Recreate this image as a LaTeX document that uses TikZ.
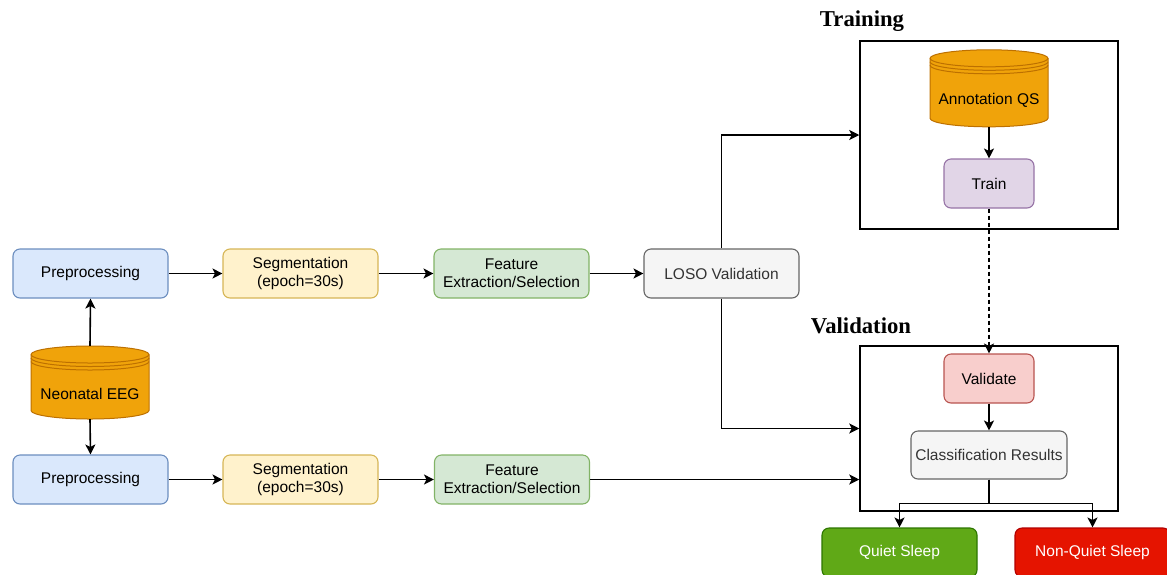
\documentclass[tikz,border=0pt]{standalone}
\usepackage{fontspec}
\setmainfont{Liberation Sans}
\newfontfamily\titlefont{Liberation Serif}
\usetikzlibrary{arrows.meta,calc}
\definecolor{blueF}{HTML}{DAE8FC}\definecolor{blueS}{HTML}{6C8EBF}
\definecolor{yelF}{HTML}{FFF2CC}\definecolor{yelS}{HTML}{D6B656}
\definecolor{grnF}{HTML}{D5E8D4}\definecolor{grnS}{HTML}{82B366}
\definecolor{gryF}{HTML}{F5F5F5}\definecolor{gryS}{HTML}{666666}\definecolor{gryT}{HTML}{333333}
\definecolor{purF}{HTML}{E1D5E7}\definecolor{purS}{HTML}{9673A6}
\definecolor{redF}{HTML}{F8CECC}\definecolor{redS}{HTML}{B85450}
\definecolor{orgF}{HTML}{F0A30A}\definecolor{orgS}{HTML}{BD7000}
\definecolor{qsF}{HTML}{60A917}\definecolor{qsS}{HTML}{2D7600}
\definecolor{nqF}{HTML}{E51400}\definecolor{nqS}{HTML}{B20000}
\newcommand{\drawdb}[3]{%
  \begin{scope}[shift={(#1,#2)}]
    \filldraw[fill=orgF,draw=orgS,line width=1pt]
      (-59,-#3) -- (-59,#3) arc[start angle=180,end angle=360,x radius=59pt,y radius=8.5pt]
      -- (59,-#3) arc[start angle=0,end angle=180,x radius=59pt,y radius=8.5pt] -- cycle;
    \draw[orgS,line width=1pt] (-59,-#3) arc[start angle=180,end angle=360,x radius=59pt,y radius=8.5pt];
    \draw[orgS,line width=1pt] (-59,-#3+3.5) arc[start angle=180,end angle=360,x radius=59pt,y radius=8.5pt];
    \draw[orgS,line width=1pt] (-59,-#3+7) arc[start angle=180,end angle=360,x radius=59pt,y radius=8.5pt];
  \end{scope}}
\tikzset{
  box/.style={rectangle,rounded corners=7pt,line width=1.1pt,minimum width=155pt,minimum height=49pt,
    inner sep=0pt,align=center,font=\fontsize{15.5}{18}\selectfont},
  bluebox/.style={box,fill=blueF,draw=blueS},
  yelbox/.style={box,fill=yelF,draw=yelS},
  grnbox/.style={box,fill=grnF,draw=grnS},
  grybox/.style={box,fill=gryF,draw=gryS,text=gryT},
  frame/.style={rectangle,draw=black,line width=1.5pt,inner sep=0pt},
  arr/.style={line width=1.6pt,-{Stealth[length=10pt,width=10pt,inset=2.5pt]}},
  ttl/.style={font=\titlefont\bfseries\fontsize{22.7}{26}\selectfont},
  txt/.style={font=\fontsize{15.5}{18}\selectfont,inner sep=0pt}
}
\begin{document}
\begin{tikzpicture}[x=1pt,y=-1pt]
\useasboundingbox (0,0) rectangle (1167,574);
% frames
\node[frame,minimum width=258pt,minimum height=188pt] (trainbox) at (989,135) {};
\node[frame,minimum width=258pt,minimum height=165pt] (valbox) at (989,428.5) {};
\node[ttl] (ttrain) at (862,21) {Training};
\node[ttl] (tval) at (861,326) {Validation};
% databases
\drawdb{90}{382.5}{28}
\node[minimum width=118pt,minimum height=73pt,inner sep=0pt] (eeg) at (90,382.5) {};
\node[txt] (eegtxt) at (90,394) {Neonatal EEG};
\drawdb{989}{88.3}{30}
\node[minimum width=118pt,minimum height=77pt,inner sep=0pt] (ann) at (989,88.3) {};
\node[txt] (anntxt) at (989,100) {Annotation QS};
% row 1
\node[bluebox] (pre1) at (90.5,273.5) {Preprocessing};
\node[yelbox] (seg1) at (300.5,273.5) {Segmentation\\(epoch=30s)};
\node[grnbox] (fe1) at (511.5,273.5) {Feature\\Extraction/Selection};
\node[grybox] (loso) at (721.5,273.5) {LOSO Validation};
% row 2
\node[bluebox] (pre2) at (90.5,479.5) {Preprocessing};
\node[yelbox] (seg2) at (300.5,479.5) {Segmentation\\(epoch=30s)};
\node[grnbox] (fe2) at (512,479.5) {Feature\\Extraction/Selection};
% right side
\node[box,fill=purF,draw=purS,minimum width=90pt] (train) at (989,183.5) {Train};
\node[box,fill=redF,draw=redS,minimum width=90pt] (valid) at (989,378.5) {Validate};
\node[grybox,minimum width=156pt,minimum height=48pt] (cls) at (989,455) {Classification Results};
\node[box,fill=qsF,draw=qsS,text=white] (quiet) at (899.5,552.5) {Quiet Sleep};
\node[box,fill=nqF,draw=nqS,text=white] (nquiet) at (1092.5,552.5) {Non-Quiet Sleep};
% connectors
\draw[arr] (eeg.north) -- (pre1.south);
\draw[arr] (eeg.south) -- (pre2.north);
\draw[arr] (pre1) -- (seg1);
\draw[arr] (seg1) -- (fe1);
\draw[arr] (fe1) -- (loso);
\draw[arr] (pre2) -- (seg2);
\draw[arr] (seg2) -- (fe2);
\draw[arr] (loso.north) |- (trainbox.west);
\draw[arr] (loso.south) |- (valbox.west);
\draw[arr] (fe2.east) -- (fe2.east -| valbox.west);
\draw[arr] (ann.south) -- (train.north);
\draw[arr,dash pattern=on 4pt off 3pt] (train.south) -- (valid.north);
\draw[arr] (valid.south) -- (cls.north);
\draw[arr] (cls.south) -- ++(0,24) -| (quiet.north);
\draw[arr] (cls.south) -- ++(0,24) -| (nquiet.north);
\end{tikzpicture}
\end{document}
